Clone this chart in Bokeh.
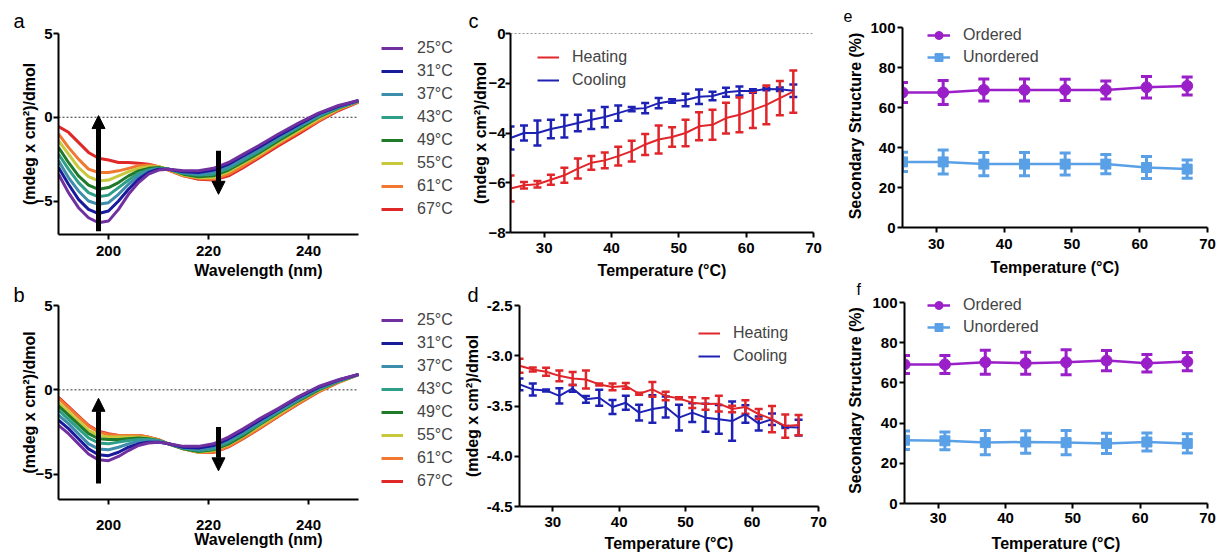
from bokeh.plotting import figure
from bokeh.models import (FixedTicker, Legend, LegendItem, Whisker, TeeHead,
                          Arrow, NormalHead, Title, ColumnDataSource, Range1d,
                          NumeralTickFormatter)
from bokeh.layouts import column, row
from bokeh.embed import file_html
from bokeh.resources import INLINE

FONT = "Liberation Sans"

# ---------------- data: CD spectra (panels a, b) ----------------
wavelength = [190, 192, 194, 196, 198, 200, 202, 204, 206, 208, 210, 212, 215, 218,
              221, 224, 227, 230, 234, 238, 242, 246, 250]
spectra_labels = ["25°C", "31°C", "37°C", "43°C", "49°C", "55°C", "61°C", "67°C"]
spectra_colors = ["#7030A0", "#1A1A9C", "#3D8EAA", "#2E9E86", "#1F7A2A", "#C8C83C",
                  "#F07830", "#E02828"]

a_25 = [-3.4, -4.5, -5.4, -6.0, -6.3, -6.2, -5.5, -4.6, -3.9, -3.4, -3.15, -3.1, -3.2, -3.2,
        -3.05, -2.7, -2.2, -1.7, -1.0, -0.35, 0.25, 0.7, 1.0]
a_31 = [-3.0, -4.0, -4.9, -5.5, -5.75, -5.6, -5.0, -4.3, -3.7, -3.3, -3.1, -3.1, -3.25, -3.3,
        -3.15, -2.8, -2.3, -1.8, -1.1, -0.45, 0.2, 0.65, 1.0]
a_37 = [-2.6, -3.6, -4.4, -5.0, -5.2, -5.1, -4.6, -4.0, -3.5, -3.2, -3.1, -3.1, -3.3, -3.4,
        -3.3, -2.95, -2.45, -1.95, -1.2, -0.55, 0.1, 0.6, 0.98]
a_43 = [-2.2, -3.1, -3.9, -4.5, -4.75, -4.65, -4.2, -3.75, -3.35, -3.15, -3.05, -3.1, -3.35, -3.45,
        -3.4, -3.05, -2.55, -2.05, -1.3, -0.6, 0.05, 0.58, 0.97]
a_49 = [-1.8, -2.7, -3.5, -4.05, -4.3, -4.2, -3.9, -3.5, -3.2, -3.05, -3.0, -3.1, -3.4, -3.55,
        -3.5, -3.15, -2.65, -2.15, -1.4, -0.7, 0.0, 0.55, 0.96]
a_55 = [-1.4, -2.2, -3.0, -3.55, -3.8, -3.75, -3.5, -3.25, -3.05, -2.95, -2.95, -3.1, -3.45, -3.6,
        -3.6, -3.25, -2.75, -2.25, -1.5, -0.8, -0.1, 0.5, 0.95]
a_61 = [-1.0, -1.8, -2.5, -3.1, -3.3, -3.3, -3.2, -3.05, -2.9, -2.85, -2.95, -3.15, -3.5, -3.65,
        -3.7, -3.4, -2.9, -2.35, -1.6, -0.9, -0.2, 0.45, 0.93]
a_67 = [-0.55, -0.9, -1.5, -2.1, -2.45, -2.55, -2.7, -2.7, -2.75, -2.8, -2.95, -3.15, -3.5, -3.7,
        -3.75, -3.5, -3.0, -2.45, -1.7, -1.0, -0.25, 0.4, 0.9]

b_25 = [-2.1, -2.6, -3.2, -3.8, -4.15, -4.2, -3.95, -3.6, -3.3, -3.15, -3.1, -3.2, -3.35, -3.35,
        -3.2, -2.8, -2.3, -1.75, -1.1, -0.4, 0.2, 0.6, 0.92]
b_31 = [-1.8, -2.3, -2.9, -3.5, -3.85, -3.9, -3.7, -3.4, -3.2, -3.1, -3.1, -3.2, -3.4, -3.45,
        -3.3, -2.9, -2.4, -1.85, -1.15, -0.45, 0.15, 0.58, 0.92]
b_37 = [-1.5, -2.0, -2.6, -3.2, -3.5, -3.55, -3.4, -3.2, -3.05, -3.0, -3.05, -3.2, -3.45, -3.55,
        -3.4, -3.0, -2.5, -1.95, -1.25, -0.55, 0.1, 0.55, 0.9]
b_43 = [-1.2, -1.75, -2.3, -2.85, -3.15, -3.2, -3.1, -3.0, -2.95, -2.95, -3.0, -3.2, -3.45, -3.6,
        -3.5, -3.1, -2.6, -2.05, -1.3, -0.6, 0.05, 0.52, 0.9]
b_49 = [-0.95, -1.5, -2.05, -2.6, -2.9, -2.95, -2.95, -2.9, -2.85, -2.9, -3.0, -3.2, -3.5, -3.65,
        -3.55, -3.2, -2.7, -2.1, -1.35, -0.65, 0.0, 0.5, 0.9]
b_55 = [-0.75, -1.3, -1.85, -2.4, -2.7, -2.8, -2.8, -2.8, -2.8, -2.85, -3.0, -3.2, -3.5, -3.7,
        -3.6, -3.25, -2.75, -2.2, -1.45, -0.7, -0.05, 0.48, 0.9]
b_61 = [-0.5, -1.05, -1.6, -2.15, -2.5, -2.65, -2.7, -2.7, -2.7, -2.8, -2.95, -3.2, -3.5, -3.7,
        -3.7, -3.35, -2.85, -2.3, -1.55, -0.8, -0.1, 0.45, 0.9]
b_67 = [-0.45, -1.0, -1.55, -2.1, -2.45, -2.6, -2.7, -2.7, -2.7, -2.8, -2.95, -3.2, -3.5, -3.7,
        -3.72, -3.38, -2.88, -2.33, -1.57, -0.82, -0.12, 0.44, 0.9]

spectra_a = [a_25, a_31, a_37, a_43, a_49, a_55, a_61, a_67]
spectra_b = [b_25, b_31, b_37, b_43, b_49, b_55, b_61, b_67]

# arrows (start y, end y) at wavelengths 198 and 222
arrow_x = [198, 222]
arrows_a = [(-6.8, 0.1), (-2.0, -4.6)]
arrows_b = [(-5.55, -0.5), (-2.2, -4.8)]

# ---------------- data: heating / cooling (panels c, d) ----------------
ramp_temp = [25, 27, 29, 31, 33, 35, 37, 39, 41, 43, 45, 47, 49, 51, 53, 55, 57, 59, 61, 63, 65, 67]

c_heat = [-6.23, -6.1, -6.06, -5.88, -5.7, -5.43, -5.2, -5.1, -4.93, -4.73, -4.46, -4.26, -4.16,
          -4.0, -3.73, -3.67, -3.4, -3.27, -3.07, -2.87, -2.6, -2.34]
c_heat_err = [0.52, 0.13, 0.13, 0.2, 0.3, 0.4, 0.28, 0.32, 0.38, 0.42, 0.42, 0.56, 0.39, 0.53,
              0.56, 0.6, 0.62, 0.7, 0.73, 0.78, 0.69, 0.85]
c_cool = [-4.2, -4.0, -4.0, -3.84, -3.73, -3.6, -3.47, -3.36, -3.2, -3.04, -3.0, -2.8, -2.71,
          -2.67, -2.54, -2.51, -2.36, -2.31, -2.31, -2.23, -2.24, -2.3]
c_cool_err = [0.46, 0.3, 0.5, 0.37, 0.45, 0.33, 0.37, 0.41, 0.31, 0.09, 0.21, 0.21, 0.07, 0.25,
              0.29, 0.17, 0.18, 0.18, 0.07, 0.05, 0.07, 0.25]

d_heat = [-3.1, -3.137, -3.16, -3.2, -3.226, -3.236, -3.285, -3.31, -3.3, -3.378, -3.335, -3.4,
          -3.424, -3.467, -3.48, -3.477, -3.53, -3.51, -3.58, -3.63, -3.7, -3.69]
d_heat_err = [0.07, 0.02, 0.04, 0.053, 0.064, 0.09, 0.01, 0.033, 0.028, 0.01, 0.074, 0.043, 0.01,
              0.053, 0.058, 0.078, 0.033, 0.066, 0.05, 0.13, 0.115, 0.1]
d_cool = [-3.285, -3.335, -3.345, -3.4, -3.325, -3.434, -3.418, -3.51, -3.467, -3.566, -3.53,
          -3.51, -3.616, -3.566, -3.616, -3.632, -3.65, -3.58, -3.675, -3.632, -3.708, -3.715]
d_cool_err = [0.058, 0.06, 0.01, 0.076, 0.033, 0.033, 0.079, 0.07, 0.07, 0.079, 0.137, 0.104,
              0.129, 0.094, 0.139, 0.143, 0.195, 0.087, 0.07, 0.058, 0.01, 0.078]

# ---------------- data: secondary structure (panels e, f) ----------------
ss_temp = [25, 31, 37, 43, 49, 55, 61, 67]
e_ordered = [67.5, 67.5, 68.8, 68.8, 68.8, 68.8, 70.1, 70.8]
e_ordered_err = [5.0, 6.0, 5.5, 5.5, 5.3, 4.5, 5.4, 4.5]
e_unordered = [32.8, 32.8, 31.7, 31.7, 31.7, 31.7, 30.0, 29.2]
e_unordered_err = [4.8, 6.0, 5.8, 5.8, 5.5, 4.8, 5.5, 4.6]
f_ordered = [69.2, 69.2, 70.3, 69.8, 70.3, 71.1, 69.8, 70.6]
f_ordered_err = [4.5, 4.5, 6.0, 5.5, 6.2, 5.0, 4.4, 4.5]
f_unordered = [31.5, 31.2, 30.3, 30.6, 30.3, 29.9, 30.6, 29.9]
f_unordered_err = [4.6, 4.4, 6.0, 5.6, 6.0, 5.0, 4.5, 4.8]

HEAT = "#E0262A"
COOL = "#1E22B4"
ORD = "#9B1FC8"
UNORD = "#5AA0E6"

YLAB_CD = "(mdeg x cm²)/dmol"


def make_fig(w, h, xr, yr, borders, xls, xas):
    l, r, t, b = borders
    p = figure(width=w, height=h, x_range=Range1d(*xr), y_range=Range1d(*yr),
               output_backend="svg", toolbar_location=None, tools="",
               min_border_left=l, min_border_right=r, min_border_top=t, min_border_bottom=b,
               frame_align=False)
    p.xgrid.visible = False
    p.ygrid.visible = False
    p.outline_line_color = None
    p.background_fill_color = "white"
    p.border_fill_color = "white"
    for ax in p.axis:
        ax.axis_line_width = 2
        ax.axis_line_color = "black"
        ax.major_tick_line_width = 2
        ax.major_tick_line_color = "black"
        ax.major_tick_out = 5
        ax.major_tick_in = 0
        ax.minor_tick_out = 0
        ax.minor_tick_in = 0
        ax.major_label_text_font = FONT
        ax.major_label_text_font_style = "bold"
        ax.major_label_text_font_size = "15px"
        ax.major_label_text_color = "black"
        ax.axis_label_text_font = FONT
        ax.axis_label_text_font_style = "bold"
        ax.axis_label_text_font_size = "16px"
        ax.axis_label_text_color = "black"
    p.yaxis.major_label_standoff = 2
    p.xaxis.major_label_standoff = xls
    p.xaxis.axis_label_standoff = xas
    return p


def panel_letter(p, letter, offset, standoff, size="20px"):
    p.add_layout(Title(text=letter, align="left", offset=offset, standoff=standoff,
                       text_font=FONT, text_font_size=size, text_font_style="normal",
                       text_color="black"), "above")


def make_legend(items, loc, spacing=3, glyph_width=22, standoff=14):
    return Legend(items=items, location=loc, padding=0, margin=0, spacing=spacing,
                  glyph_width=glyph_width, glyph_height=20, label_height=20,
                  label_standoff=standoff, label_text_font=FONT, label_text_font_size="16px",
                  background_fill_alpha=0, border_line_color=None)


def spectra_panel(w, h, yr, borders, curves, arrows, xls, xas, legend_loc):
    # frame extends right of 250 nm to hold the legend; axis is bounded to 190-250
    l, r, t, b = borders
    xend = 190 + (w - l - r) / 5.0
    p = make_fig(w, h, (190, xend), yr, borders, xls, xas)
    p.xaxis.bounds = (wavelength[0], wavelength[-1])
    p.xaxis.ticker = FixedTicker(ticks=[200, 220, 240])
    p.yaxis.ticker = FixedTicker(ticks=[-5, 0, 5])
    p.xaxis.axis_label = "Wavelength (nm)"
    p.yaxis.axis_label = YLAB_CD
    p.yaxis.axis_label_standoff = -6
    p.yaxis.major_label_standoff = 1
    p.line([wavelength[0], wavelength[-1]], [0, 0], line_color="#333333", line_width=1,
           line_dash="2 2")
    renderers = {}
    for i in reversed(range(len(curves))):
        renderers[i] = p.line(wavelength, curves[i], line_color=spectra_colors[i],
                              line_width=3)
    for (ys, ye), ax in zip(arrows, arrow_x):
        p.add_layout(Arrow(end=NormalHead(size=13, fill_color="black", line_color="black"),
                           x_start=ax, y_start=ys, x_end=ax, y_end=ye,
                           line_width=5, line_color="black"))
    items = [LegendItem(label=spectra_labels[i], renderers=[renderers[i]])
             for i in range(len(curves))]
    p.add_layout(make_legend(items, legend_loc, glyph_width=22, standoff=14), "center")
    return p


def ramp_panel(w, h, yr, borders, yticks, heat, heat_err, cool, cool_err, legend_loc,
               ystand, xls, xas, ylabstand=2, zero=False, fmt=None):
    p = make_fig(w, h, (25, 70), yr, borders, xls, xas)
    p.xaxis.ticker = FixedTicker(ticks=[30, 40, 50, 60, 70])
    p.yaxis.ticker = FixedTicker(ticks=yticks)
    if fmt:
        p.yaxis.formatter = NumeralTickFormatter(format=fmt)
    p.xaxis.axis_label = "Temperature (°C)"
    p.yaxis.axis_label = YLAB_CD
    p.yaxis.axis_label_standoff = ystand
    p.yaxis.major_label_standoff = ylabstand
    if zero:
        p.line([25, 70], [0, 0], line_color="#333333", line_width=1, line_dash="2 2")
    rs = []
    for vals, errs, col in ((cool, cool_err, COOL), (heat, heat_err, HEAT)):
        src = ColumnDataSource(dict(x=ramp_temp, y=vals,
                                    lo=[v - e for v, e in zip(vals, errs)],
                                    hi=[v + e for v, e in zip(vals, errs)]))
        p.add_layout(Whisker(source=src, base="x", lower="lo", upper="hi",
                             line_color=col, line_width=2.5,
                             lower_head=TeeHead(size=8, line_color=col, line_width=2.5),
                             upper_head=TeeHead(size=8, line_color=col, line_width=2.5)))
        rs.append(p.line("x", "y", source=src, line_color=col, line_width=2))
    items = [LegendItem(label="Heating", renderers=[rs[1]]),
             LegendItem(label="Cooling", renderers=[rs[0]])]
    p.add_layout(make_legend(items, legend_loc, glyph_width=22, standoff=13), "center")
    return p


def ss_panel(w, h, ytop, borders, ordv, orde, unv, une, legend_loc, ystand, xls, xas):
    # frame extends a little above 100 % to hold the legend; axis is bounded to 0-100
    p = make_fig(w, h, (25, 70), (0, ytop), borders, xls, xas)
    p.yaxis.bounds = (0, 100)
    p.xaxis.ticker = FixedTicker(ticks=[30, 40, 50, 60, 70])
    p.yaxis.ticker = FixedTicker(ticks=[0, 20, 40, 60, 80, 100])
    p.xaxis.axis_label = "Temperature (°C)"
    p.yaxis.axis_label = "Secondary Structure (%)"
    p.yaxis.axis_label_standoff = ystand
    items = []
    for vals, errs, col, mk, sz, lab in ((ordv, orde, ORD, "circle", 11, "Ordered"),
                                         (unv, une, UNORD, "square", 10, "Unordered")):
        src = ColumnDataSource(dict(x=ss_temp, y=vals,
                                    lo=[v - e for v, e in zip(vals, errs)],
                                    hi=[v + e for v, e in zip(vals, errs)]))
        p.add_layout(Whisker(source=src, base="x", lower="lo", upper="hi",
                             line_color=col, line_width=3,
                             lower_head=TeeHead(size=11, line_color=col, line_width=3),
                             upper_head=TeeHead(size=11, line_color=col, line_width=3)))
        lr = p.line("x", "y", source=src, line_color=col, line_width=2.5)
        sr = p.scatter("x", "y", source=src, marker=mk, size=sz, fill_color=col,
                       line_color=col)
        items.append(LegendItem(label=lab, renderers=[lr, sr]))
    p.add_layout(make_legend(items, legend_loc, spacing=2, glyph_width=23, standoff=13),
                 "center")
    return p


# column 1 (width 460): a height 281, b height 275
pa = spectra_panel(460, 281, (-7, 5), (58, 2, 33, 45), spectra_a, arrows_a,
                   6, 3, (323, 15))
panel_letter(pa, "a", -45, 3)
pb = spectra_panel(460, 275, (-6.5, 5), (58, 2, 24, 57), spectra_b, arrows_b,
                   15, -2, (323, 8))
panel_letter(pb, "b", -45, 0)

# column 2 (width 380): c height 281, d height 275
pc = ramp_panel(380, 281, (-8, 0), (50, 27, 33, 47), [0, -2, -4, -6, -8],
                c_heat, c_heat_err, c_cool, c_cool_err, (27, 142), -4, 5, 6, ylabstand=0,
                zero=True)
panel_letter(pc, "c", -42, 4)
pd = ramp_panel(380, 275, (-4.5, -2.5), (57, 22, 23, 50), [-2.5, -3.0, -3.5, -4.0, -4.5],
                d_heat, d_heat_err, d_cool, d_cool_err, (179, 140), 3, 5, 5, fmt="0.0")
panel_letter(pd, "d", -52, 0)

# column 3 (width 379): e height 278, f height 278
pe = ss_panel(379, 278, 101.5, (62, 12, 24, 49), e_ordered, e_ordered_err, e_unordered,
              e_unordered_err, (25, 160), 3, 6, 7)
panel_letter(pe, "e", -59, 6, "16px")
pf = ss_panel(379, 278, 102.5, (64, 12, 18, 53), f_ordered, f_ordered_err, f_unordered,
              f_unordered_err, (23, 166), 5, 4, 9)
panel_letter(pf, "f", -48, 0, "16px")

layout = row(column(pa, pb), column(pc, pd), column(pe, pf))
open("out.html", "w").write(file_html(layout, INLINE))
